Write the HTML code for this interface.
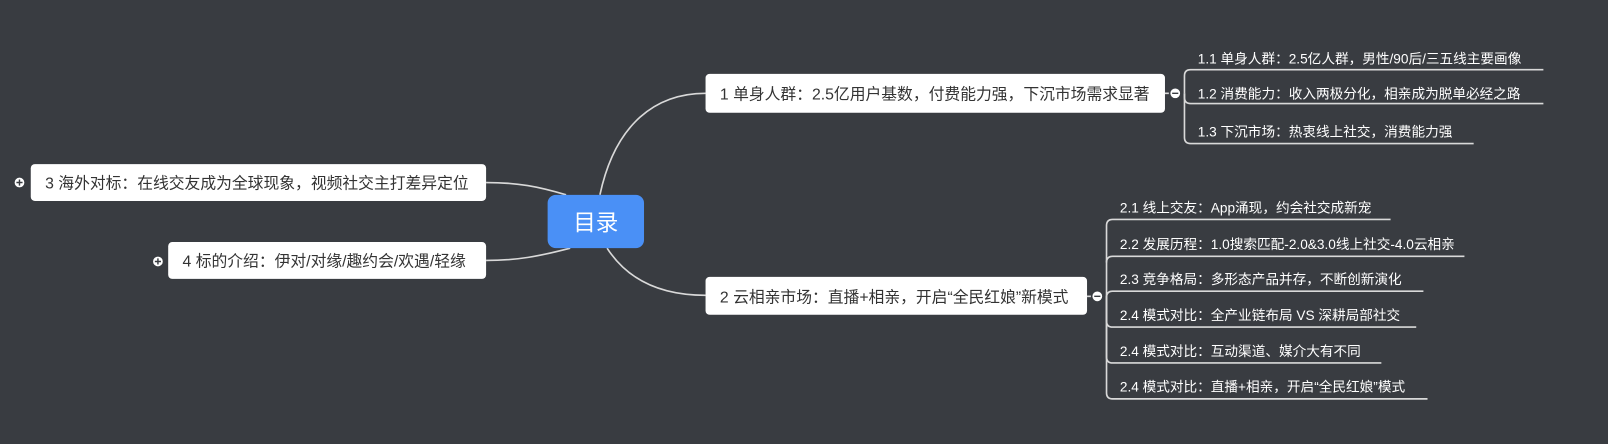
<!DOCTYPE html>
<html><head><meta charset="utf-8"><style>
html,body{margin:0;padding:0;background:#393c41;width:1608px;height:444px;overflow:hidden}
#c{position:absolute;left:0;top:0;width:1568px;height:433px;transform-origin:0 0;transform:scale(1.02551,1.0254);font-family:"Liberation Sans","Noto Sans CJK SC",sans-serif}
.n{position:absolute;background:#fff;border-radius:4px;color:#333;font-size:15.4px;box-sizing:border-box;white-space:nowrap;display:flex;align-items:center;padding-left:14px}
.t{position:absolute;color:#fff;font-size:13.3px;white-space:nowrap}
.ct{position:absolute;left:534px;top:190px;width:94px;height:52px;background:#4a90f6;border-radius:8px;color:#fff;font-size:22px;display:flex;align-items:center;justify-content:center;font-family:"Noto Sans CJK SC",sans-serif}
svg{position:absolute;left:0;top:0}
</style></head><body><div id="c">
<svg width="1568" height="433" fill="none" stroke="#d9d9d9" stroke-width="1.6">
<path d="M585 190 C 600 120, 640 91, 688 91"/>
<path d="M592 242 C 610 270, 640 288, 688 288"/>
<path d="M474 178 C 505 178, 525 182, 552 190"/>
<path d="M474 254 C 505 254, 525 250, 556 242"/>
<path d="M1136 91 H1146"/>
<path d="M1155 91 V74 Q1155 68 1161 68 H1505"/>
<path d="M1155 91 V95 Q1155 101 1161 101 H1505"/>
<path d="M1155 91 V134 Q1155 140 1161 140 H1437"/>
<path d="M1060 289 H1070"/>
<path d="M1079 289 V220 Q1079 214 1085 214 H1356"/>
<path d="M1079 256 Q1079 250 1085 250 H1428"/>
<path d="M1079 290 Q1079 284 1085 284 H1388"/>
<path d="M1079 289 V313 Q1079 319 1085 319 H1381"/>
<path d="M1079 289 V348 Q1079 354 1085 354 H1347"/>
<path d="M1079 289 V383 Q1079 389 1085 389 H1392"/>
</svg>
<svg width="1568" height="433">
<g stroke="#393c41" stroke-width="1.5">
<circle cx="1146" cy="91" r="5.5" fill="#fff"/>
<circle cx="1070" cy="289" r="5.5" fill="#fff"/>
<circle cx="19" cy="178" r="5.5" fill="#fff"/>
<circle cx="154" cy="255" r="5.5" fill="#fff"/>
</g>
<g stroke="#393c41" stroke-width="1.4">
<path d="M1143 91H1149M1067 289H1073M16 178H22M19 175V181M151 255H157M154 252V258"/>
</g>
</svg>
<div class="ct">目录</div>
<div class="n" style="left:688px;top:72px;width:448px;height:38px">1 单身人群：2.5亿用户基数，付费能力强，下沉市场需求显著</div>
<div class="n" style="left:688px;top:270px;width:372px;height:37px">2 云相亲市场：直播+相亲，开启“全民红娘”新模式</div>
<div class="n" style="left:30px;top:160px;width:444px;height:36px">3 海外对标：在线交友成为全球现象，视频社交主打差异定位</div>
<div class="n" style="left:164px;top:236px;width:310px;height:36px">4 标的介绍：伊对/对缘/趣约会/欢遇/轻缘</div>
<div class="t" style="left:1168px;top:47px">1.1 单身人群：2.5亿人群，男性/90后/三五线主要画像</div>
<div class="t" style="left:1168px;top:81px">1.2 消费能力：收入两极分化，相亲成为脱单必经之路</div>
<div class="t" style="left:1168px;top:118px">1.3 下沉市场：热衷线上社交，消费能力强</div>
<div class="t" style="left:1092px;top:192px">2.1 线上交友：App涌现，约会社交成新宠</div>
<div class="t" style="left:1092px;top:228px">2.2 发展历程：1.0搜索匹配-2.0&amp;3.0线上社交-4.0云相亲</div>
<div class="t" style="left:1092px;top:262px">2.3 竞争格局：多形态产品并存，不断创新演化</div>
<div class="t" style="left:1092px;top:297px">2.4 模式对比：全产业链布局 VS 深耕局部社交</div>
<div class="t" style="left:1092px;top:332px">2.4 模式对比：互动渠道、媒介大有不同</div>
<div class="t" style="left:1092px;top:367px">2.4 模式对比：直播+相亲，开启“全民红娘”模式</div>
</div></body></html>
